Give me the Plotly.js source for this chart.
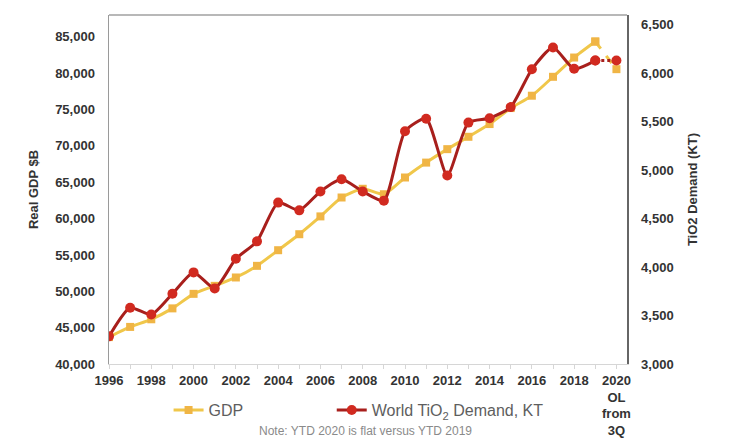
<!DOCTYPE html>
<html>
<head>
<meta charset="utf-8">
<script src="https://cdn.plot.ly/plotly-3.0.1.min.js"></script>
<style>html,body{margin:0;padding:0;background:#fff;}#chart{width:734px;height:444px;}</style>
</head>
<body>
<div id="chart"></div>
<script>
const years = [1996,1997,1998,1999,2000,2001,2002,2003,2004,2005,2006,2007,2008,2009,2010,2011,2012,2013,2014,2015,2016,2017,2018,2019,2020];
const gdp = [43700,45100,46150,47650,49650,50750,51900,53500,55650,57850,60300,62900,64100,63350,65650,67700,69550,71250,73000,75200,76900,79500,82150,84350,80550];
const tio2 = [3285,3580,3510,3725,3945,3780,4085,4265,4665,4585,4780,4905,4780,4685,5400,5530,4945,5490,5535,5650,6040,6265,6045,6130,6130];
const tickYears = [1996,1998,2000,2002,2004,2006,2008,2010,2012,2014,2016,2018,2020];
const tickLabels = ['1996','1998','2000','2002','2004','2006','2008','2010','2012','2014','2016','2018','2020<br>OL<br>from<br>3Q'];

const gdpLine = '#f0c74a', gdpMarker = '#f0b545';
const redLine = '#a81f1c', redMarker = '#d12a20';
const n = years.length;

const traces = [
  {x: years.slice(0, n-1), y: gdp.slice(0, n-1), name: 'GDP', type: 'scatter', mode: 'lines+markers',
   line: {color: gdpLine, width: 3, shape: 'spline', smoothing: 0.6},
   marker: {symbol: 'square', size: 8, color: gdpMarker}, legend: 'legend', yaxis: 'y'},
  {x: years.slice(n-2), y: gdp.slice(n-2), type: 'scatter', mode: 'lines+markers', showlegend: false,
   line: {color: gdpLine, width: 3, dash: 'dash'},
   marker: {symbol: 'square', size: 8, color: gdpMarker}, yaxis: 'y'},
  {x: years.slice(0, n-1), y: tio2.slice(0, n-1), name: 'World TiO<sub>2</sub> Demand, KT', type: 'scatter', mode: 'lines+markers',
   line: {color: redLine, width: 3, shape: 'spline', smoothing: 0.6},
   marker: {symbol: 'circle', size: 10, color: redMarker}, legend: 'legend2', yaxis: 'y2'},
  {x: years.slice(n-2), y: tio2.slice(n-2), type: 'scatter', mode: 'lines+markers', showlegend: false,
   line: {color: redLine, width: 3, dash: 'dot'},
   marker: {symbol: 'circle', size: 10, color: redMarker}, yaxis: 'y2'}
];

const tickFont = {family: 'Liberation Sans, Arial, sans-serif', size: 13, color: '#333', weight: 'bold'};

const layout = {
  width: 734, height: 444,
  margin: {l: 109, r: 107, t: 15, b: 80},
  paper_bgcolor: '#fff', plot_bgcolor: '#fff',
  font: {family: 'Liberation Sans, Arial, sans-serif'},
  xaxis: {
    range: [1996, 2020.5], tickmode: 'array', tickvals: tickYears, ticktext: tickLabels,
    showgrid: false, zeroline: false, showline: true, linecolor: '#d6d6d6', linewidth: 1,
    ticks: 'outside', ticklen: 4, tickcolor: '#d6d6d6', tickfont: tickFont, ticklabelstandoff: 0,
    minor: {tickvals: years, ticks: 'outside', ticklen: 4, tickcolor: '#d6d6d6', showgrid: false}
  },
  yaxis: {
    range: [40000, 88000], dtick: 5000, tick0: 40000, tickformat: ',d',
    showgrid: false, zeroline: false, showline: true, linecolor: '#9a9a9a', linewidth: 1.5,
    ticks: '', tickfont: tickFont, ticklabelstandoff: 10,
    title: {text: 'Real GDP $B', font: {family: 'Liberation Sans, Arial, sans-serif', size: 13, color: '#333', weight: 'bold'}, standoff: 13}
  },
  yaxis2: {
    overlaying: 'y', side: 'right',
    range: [3000, 6600], dtick: 500, tick0: 3000, tickformat: ',d',
    showgrid: false, zeroline: false, showline: true, linecolor: '#666', linewidth: 1.5,
    ticks: '', tickfont: tickFont, ticklabelstandoff: 10,
    title: {text: 'TiO2 Demand (KT)', font: {family: 'Liberation Sans, Arial, sans-serif', size: 13, color: '#333', weight: 'bold'}, standoff: 15}
  },
  legend: {orientation: 'h', x: 0.115, xanchor: 'left', y: -0.132, yanchor: 'middle',
           font: {size: 16, color: '#5e5e5e'}, itemwidth: 30, bgcolor: 'rgba(0,0,0,0)'},
  legend2: {orientation: 'h', x: 0.43, xanchor: 'left', y: -0.132, yanchor: 'middle',
           font: {size: 16, color: '#5e5e5e'}, itemwidth: 30, bgcolor: 'rgba(0,0,0,0)'},
  shapes: [
    {type: 'line', xref: 'paper', yref: 'paper', x0: 0, x1: 1, y0: 1, y1: 1, line: {color: '#a0a0a0', width: 1.5}}
  ],
  annotations: [
    {text: 'Note: YTD 2020 is flat versus YTD 2019', xref: 'paper', yref: 'paper', x: 0.496, y: -0.192,
     xanchor: 'center', yanchor: 'middle', showarrow: false, font: {size: 12, color: '#8a8a8a'}}
  ],
  showlegend: true
};

Plotly.newPlot('chart', traces, layout, {displayModeBar: false, staticPlot: true});
</script>
</body>
</html>
